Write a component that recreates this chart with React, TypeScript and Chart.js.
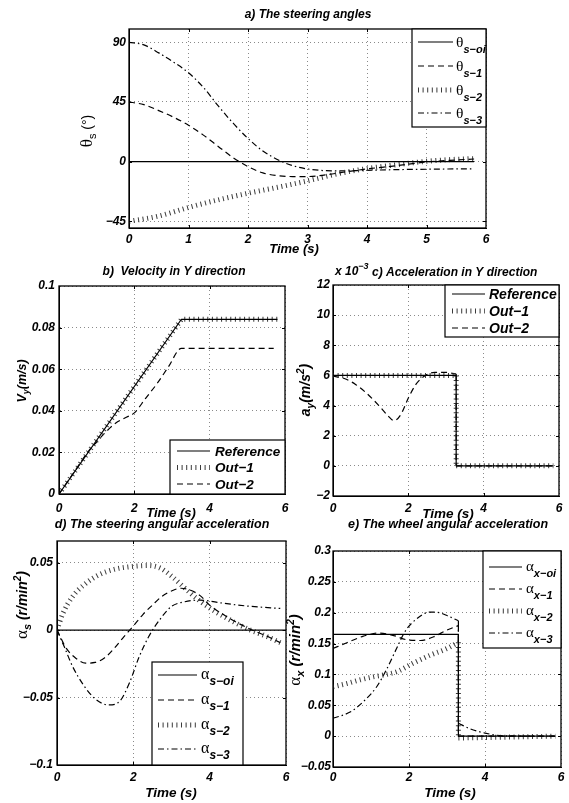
import React, { useEffect, useRef } from "react";
import { Chart, registerables } from "chart.js";
Chart.register(...registerables);

// ================= DATA =================
// a) The steering angles (deg) vs Time (s)
const aTicksX = [0, 1, 2, 3, 4, 5, 6];
const aTicksY = [-45, 0, 45, 90];
const aOiT = [0, 5.8];
const aOiV = [0, 0];
const a1T = [0, 0.25, 0.5, 0.75, 1.0, 1.25, 1.5, 1.75, 2.0, 2.25, 2.5, 2.75, 3.0, 3.3, 3.6, 4.0, 4.5, 5.0, 5.5, 5.8];
const a1V = [45, 43, 38.5, 33.5, 27.5, 20, 11.5, 3, -3.7, -8.5, -10.5, -11.2, -11.2, -10, -8, -5.5, -3, -0.2, 1.3, 2];
const a2T = [0, 0.5, 1.0, 1.5, 2.0, 2.5, 3.0, 3.5, 4.0, 4.5, 5.0, 5.5, 5.8];
const a2V = [-45, -41, -34.5, -28.8, -23.8, -19.3, -14.5, -9.2, -5.2, -2.3, 0.3, 1.8, 2.3];
const a3T = [0, 0.25, 0.5, 0.75, 1.0, 1.25, 1.5, 1.75, 2.0, 2.25, 2.5, 2.75, 3.0, 3.5, 4.0, 4.5, 5.0, 5.5, 5.8];
const a3V = [90, 88, 82, 75, 67, 56, 42, 29, 17.5, 8, 1.5, -3, -5.5, -7, -6.5, -6, -5.7, -5.5, -5.5];

// b) Velocity in Y direction (m/s)
const bTicksX = [0, 2, 4, 6];
const bTicksY = [0, 0.02, 0.04, 0.06, 0.08, 0.1];
const bRefT = [0, 3.25, 5.8];
const bRefV = [0, 0.084, 0.084];
const bOut1T = [0, 3.25, 5.8];
const bOut1V = [0, 0.084, 0.084];
const bOut2T = [0, 0.4, 0.8, 1.0, 1.2, 1.5, 1.8, 2.0, 2.3, 2.6, 2.9, 3.25, 5.7];
const bOut2V = [0, 0.0105, 0.021, 0.025, 0.029, 0.034, 0.037, 0.039, 0.046, 0.053, 0.061, 0.07, 0.07];

// c) Acceleration in Y direction (m/s^2)
const cTicksX = [0, 2, 4, 6];
const cTicksY = [-0.002, 0, 0.002, 0.004, 0.006, 0.008, 0.01, 0.012];
const cRefT = [0, 3.27, 3.27, 5.85];
const cRefV = [0.006, 0.006, 0, 0];
const cOut1T = [0, 3.27, 3.27, 5.85];
const cOut1V = [0.006, 0.006, 0, 0];
const cOut2T = [0, 0.3, 0.6, 0.9, 1.2, 1.45, 1.62, 1.8, 2.0, 2.2, 2.45, 2.7, 3.0, 3.27, 3.27, 5.85];
const cOut2V = [0.00595, 0.0058, 0.0054, 0.0048, 0.00405, 0.00335, 0.003, 0.0034, 0.0045, 0.0054, 0.006, 0.0062, 0.0062, 0.0061, 0, 0];

// d) The steering angular acceleration (r/min^2)
const dTicksX = [0, 2, 4, 6];
const dTicksY = [-0.1, -0.05, 0, 0.05];
const dOiT = [0, 6];
const dOiV = [0, 0];
const d1T = [0, 0.25, 0.5, 0.75, 1.0, 1.25, 1.5, 1.75, 2.0, 2.25, 2.5, 2.75, 3.0, 3.25, 3.5, 3.75, 4.0, 4.5, 5.0, 5.5, 5.85];
const d1V = [0, -0.0138, -0.021, -0.0245, -0.024, -0.0205, -0.0135, -0.005, 0.003, 0.0115, 0.0185, 0.025, 0.029, 0.031, 0.0295, 0.0255, 0.0185, 0.009, 0.0015, -0.0045, -0.0093];
const d2T = [0, 0.15, 0.4, 0.75, 1.1, 1.5, 2.0, 2.4, 2.7, 3.0, 3.35, 3.7, 4.1, 4.6, 5.0, 5.5, 5.85];
const d2V = [0, 0.012, 0.0245, 0.0345, 0.041, 0.045, 0.0472, 0.0478, 0.046, 0.04, 0.031, 0.0225, 0.0145, 0.0065, 0.0008, -0.0048, -0.0093];
const d3T = [0, 0.2, 0.4, 0.7, 1.0, 1.35, 1.65, 1.9, 2.15, 2.4, 2.7, 3.0, 3.35, 3.75, 4.2, 4.6, 5.1, 5.6, 5.85];
const d3V = [0, -0.013, -0.0265, -0.041, -0.051, -0.0555, -0.0525, -0.039, -0.02, -0.005, 0.008, 0.0175, 0.021, 0.0222, 0.0205, 0.019, 0.0175, 0.0165, 0.016];

// e) The wheel angular acceleration (r/min^2)
const eTicksX = [0, 2, 4, 6];
const eTicksY = [-0.05, 0, 0.05, 0.1, 0.15, 0.2, 0.25, 0.3];
const eOiT = [0, 3.3, 3.3, 5.85];
const eOiV = [0.165, 0.165, 0, 0];
const eX1T = [0, 0.35, 0.8, 1.2, 1.6, 1.95, 2.3, 2.65, 3.0, 3.3, 3.3, 5.85];
const eX1V = [0.142, 0.151, 0.162, 0.167, 0.163, 0.156, 0.155, 0.161, 0.172, 0.179, 0, 0];
const eX2T = [0, 0.35, 0.7, 1.05, 1.4, 1.7, 2.1, 2.55, 3.0, 3.3, 3.3, 4.2, 5.85];
const eX2V = [0.08, 0.085, 0.091, 0.096, 0.1, 0.105, 0.118, 0.131, 0.142, 0.152, -0.003, -0.002, 0];
const eX3T = [0, 0.45, 0.8, 1.15, 1.4, 1.65, 1.9, 2.2, 2.55, 2.8, 3.05, 3.3, 3.3, 3.6, 4.0, 4.5, 5.85];
const eX3V = [0.029, 0.039, 0.056, 0.08, 0.107, 0.139, 0.17, 0.19, 0.201, 0.2, 0.194, 0.187, 0.021, 0.012, 0.005, 0.0005, 0];

// ================= STYLE / LAYOUT =================
const W = 569;
const H = 803;
const FONT = '"Liberation Sans", Arial, Helvetica, sans-serif';
const GREEK = '"Liberation Serif", "Times New Roman", serif';
const bi = (s: number) => `italic bold ${s}px ${FONT}`;
const gr = (s: number) => `${s}px ${GREEK}`;
const pl = (s: number) => `${s}px ${FONT}`;

type StyleName = "solid" | "dash" | "ticks" | "dashdot";
const STYLES: Record<StyleName, { width: number; dash: number[]; color: string }> = {
  solid: { width: 1.2, dash: [], color: "#000" },
  dash: { width: 1.2, dash: [6, 4], color: "#000" },
  ticks: { width: 5, dash: [1, 3.6], color: "#3a3a3a" },
  dashdot: { width: 1.2, dash: [6, 3, 1.5, 3], color: "#000" },
};

type Run = { t: string; f: string; dy?: number };
type TextItem = { runs: Run[]; x: number; y: number; align: "left" | "center" | "right"; rot?: boolean };
type Series = { t: number[]; v: number[]; style: StyleName; smooth: boolean };
type LegendSpec = {
  box: [number, number, number, number];
  rows: number[];
  lx1: number;
  lx2: number;
  tx: number;
  entries: { style: StyleName; runs: Run[] }[];
};
type PanelSpec = {
  id: string;
  rect: { L: number; T: number; R: number; B: number };
  xMin: number; xMax: number; xTicks: number[]; xPad: number;
  yMin: number; yMax: number; yTicks: number[]; yPad: number;
  yFmt?: (v: number) => string;
  series: Series[];
  texts: TextItem[];
  legend: LegendSpec;
};

const fmt = (v: number) => {
  const r = Math.round(v * 1e6) / 1e6;
  return String(r).replace("-", "\u2212");
};

function runsWidth(ctx: CanvasRenderingContext2D, runs: Run[]) {
  let w = 0;
  for (const r of runs) {
    ctx.font = r.f;
    w += ctx.measureText(r.t).width;
  }
  return w;
}

function drawRuns(ctx: CanvasRenderingContext2D, runs: Run[], x: number, y: number, align: string) {
  const w = runsWidth(ctx, runs);
  let cx = align === "left" ? x : align === "center" ? x - w / 2 : x - w;
  ctx.textAlign = "left";
  ctx.textBaseline = "alphabetic";
  for (const r of runs) {
    ctx.font = r.f;
    ctx.fillText(r.t, cx, y + (r.dy || 0));
    cx += ctx.measureText(r.t).width;
  }
}

function buildDatasets(series: Series[]) {
  const out: any[] = [];
  series.forEach((s) => {
    const st = STYLES[s.style];
    const push = (pts: { x: number; y: number }[], smooth: boolean) => {
      if (pts.length < 2) return;
      out.push({
        data: pts,
        showLine: true,
        pointRadius: 0,
        pointHoverRadius: 0,
        borderColor: st.color,
        borderWidth: st.width,
        borderDash: st.dash,
        borderCapStyle: "butt",
        borderJoinStyle: "round",
        cubicInterpolationMode: smooth ? "monotone" : "default",
        tension: 0,
        fill: false,
      });
    };
    let seg = [{ x: s.t[0], y: s.v[0] }];
    for (let i = 1; i < s.t.length; i++) {
      if (s.t[i] === s.t[i - 1]) {
        push(seg, s.smooth);
        push([{ x: s.t[i - 1], y: s.v[i - 1] }, { x: s.t[i], y: s.v[i] }], false);
        seg = [{ x: s.t[i], y: s.v[i] }];
      } else {
        seg.push({ x: s.t[i], y: s.v[i] });
      }
    }
    push(seg, s.smooth);
  });
  return out;
}

function overlayPlugin(spec: PanelSpec) {
  return {
    id: "overlay_" + spec.id,
    afterDraw(chart: any) {
      const ctx: CanvasRenderingContext2D = chart.ctx;
      const a = chart.chartArea;
      const xs = chart.scales.x;
      const ys = chart.scales.y;
      ctx.save();
      ctx.setLineDash([]);
      ctx.strokeStyle = "#000";
      ctx.lineWidth = 1;
      ctx.beginPath();
      for (const v of spec.xTicks) {
        const px = Math.round(xs.getPixelForValue(v)) + 0.5;
        if (px - a.left < 2 || a.right - px < 2) continue;
        ctx.moveTo(px, a.bottom);
        ctx.lineTo(px, a.bottom - 3);
        ctx.moveTo(px, a.top);
        ctx.lineTo(px, a.top + 3);
      }
      for (const v of spec.yTicks) {
        const py = Math.round(ys.getPixelForValue(v)) + 0.5;
        if (py - a.top < 2 || a.bottom - py < 2) continue;
        ctx.moveTo(a.left, py);
        ctx.lineTo(a.left + 3, py);
        ctx.moveTo(a.right, py);
        ctx.lineTo(a.right - 3, py);
      }
      ctx.stroke();
      ctx.lineWidth = 1.3;
      ctx.strokeRect(a.left, a.top, a.right - a.left, a.bottom - a.top);

      // legend
      const lg = spec.legend;
      const [bx1, by1, bx2, by2] = lg.box;
      ctx.fillStyle = "#fff";
      ctx.fillRect(bx1, by1, bx2 - bx1, by2 - by1);
      ctx.lineWidth = 1.2;
      ctx.strokeStyle = "#000";
      ctx.strokeRect(bx1, by1, bx2 - bx1, by2 - by1);
      lg.entries.forEach((e, i) => {
        const st = STYLES[e.style];
        const y = lg.rows[i];
        ctx.save();
        ctx.strokeStyle = st.color;
        ctx.lineWidth = st.width;
        ctx.setLineDash(st.dash);
        ctx.lineCap = "butt";
        ctx.beginPath();
        ctx.moveTo(lg.lx1, y);
        ctx.lineTo(lg.lx2, y);
        ctx.stroke();
        ctx.restore();
        ctx.fillStyle = "#000";
        drawRuns(ctx, e.runs, lg.tx, y, "left");
      });

      // texts
      ctx.fillStyle = "#000";
      for (const t of spec.texts) {
        if (t.rot) {
          ctx.save();
          ctx.translate(t.x, t.y);
          ctx.rotate(-Math.PI / 2);
          drawRuns(ctx, t.runs, 0, 0, t.align);
          ctx.restore();
        } else {
          drawRuns(ctx, t.runs, t.x, t.y, t.align);
        }
      }
      ctx.restore();
    },
  };
}

// legend row helpers (runs relative to row centre line)
const greekEntry = (g: string, sub: string, gs: number, ss: number, gdy: number, sdy: number): Run[] => [
  { t: g, f: gr(gs), dy: gdy },
  { t: sub, f: bi(ss), dy: sdy },
];
const wordEntry = (w: string, s: number): Run[] => [{ t: w, f: bi(s), dy: s * 0.36 }];

const PANELS: PanelSpec[] = [
  {
    id: "a",
    rect: { L: 129, T: 29, R: 486, B: 228 },
    xMin: 0, xMax: 6, xTicks: aTicksX, xPad: 4,
    yMin: -50, yMax: 100, yTicks: aTicksY, yPad: 3,
    series: [
      { t: aOiT, v: aOiV, style: "solid", smooth: false },
      { t: a1T, v: a1V, style: "dash", smooth: true },
      { t: a2T, v: a2V, style: "ticks", smooth: true },
      { t: a3T, v: a3V, style: "dashdot", smooth: true },
    ],
    texts: [
      { runs: [{ t: "a) The steering angles", f: bi(12) }], x: 308, y: 18, align: "center" },
      { runs: [{ t: "Time (s)", f: bi(13) }], x: 294, y: 252.5, align: "center" },
      {
        runs: [
          { t: "\u03b8", f: gr(17) },
          { t: "s", f: pl(11), dy: 4 },
          { t: " (\u00b0)", f: pl(14) },
        ],
        x: 92, y: 131, align: "center", rot: true,
      },
    ],
    legend: {
      box: [412, 29, 486, 127],
      rows: [42, 66, 90, 113],
      lx1: 418, lx2: 453, tx: 456,
      entries: [
        { style: "solid", runs: greekEntry("\u03b8", "s\u2212oi", 15.5, 11, 4.5, 10.5) },
        { style: "dash", runs: greekEntry("\u03b8", "s\u22121", 15.5, 11, 4.5, 10.5) },
        { style: "ticks", runs: greekEntry("\u03b8", "s\u22122", 15.5, 11, 4.5, 10.5) },
        { style: "dashdot", runs: greekEntry("\u03b8", "s\u22123", 15.5, 11, 4.5, 10.5) },
      ],
    },
  },
  {
    id: "b",
    rect: { L: 59, T: 286, R: 285, B: 494 },
    xMin: 0, xMax: 6, xTicks: bTicksX, xPad: 7,
    yMin: 0, yMax: 0.1, yTicks: bTicksY, yPad: 4,
    series: [
      { t: bRefT, v: bRefV, style: "solid", smooth: false },
      { t: bOut1T, v: bOut1V, style: "ticks", smooth: false },
      { t: bOut2T, v: bOut2V, style: "dash", smooth: true },
    ],
    texts: [
      { runs: [{ t: "b)  Velocity in Y direction", f: bi(12) }], x: 174, y: 274.5, align: "center" },
      { runs: [{ t: "Time (s)", f: bi(13) }], x: 171, y: 516.5, align: "center" },
      {
        runs: [
          { t: "V", f: bi(12.5) },
          { t: "y", f: bi(9), dy: 3 },
          { t: "(m/s)", f: bi(12.5) },
        ],
        x: 25.5, y: 381, align: "center", rot: true,
      },
    ],
    legend: {
      box: [170, 440, 285, 494],
      rows: [451, 467.5, 484],
      lx1: 177, lx2: 210, tx: 215,
      entries: [
        { style: "solid", runs: wordEntry("Reference", 13.5) },
        { style: "ticks", runs: wordEntry("Out\u22121", 13.5) },
        { style: "dash", runs: wordEntry("Out\u22122", 13.5) },
      ],
    },
  },
  {
    id: "c",
    rect: { L: 333, T: 285, R: 559, B: 496 },
    xMin: 0, xMax: 6, xTicks: cTicksX, xPad: 5,
    yMin: -0.002, yMax: 0.012, yTicks: cTicksY, yPad: 3,
    yFmt: (v: number) => fmt(v * 1000),
    series: [
      { t: cRefT, v: cRefV, style: "solid", smooth: false },
      { t: cOut1T, v: cOut1V, style: "ticks", smooth: false },
      { t: cOut2T, v: cOut2V, style: "dash", smooth: true },
    ],
    texts: [
      {
        runs: [
          { t: "x 10", f: bi(12) },
          { t: "\u22123", f: bi(9), dy: -6 },
        ],
        x: 335, y: 275, align: "left",
      },
      { runs: [{ t: "c) Acceleration in Y direction", f: bi(12) }], x: 372, y: 275.5, align: "left" },
      { runs: [{ t: "Time (s)", f: bi(13.5) }], x: 448, y: 517.5, align: "center" },
      {
        runs: [
          { t: "a", f: bi(14) },
          { t: "y", f: bi(10), dy: 3.5 },
          { t: "(m/s", f: bi(14) },
          { t: "2", f: bi(10), dy: -6 },
          { t: ")", f: bi(14) },
        ],
        x: 310, y: 390, align: "center", rot: true,
      },
    ],
    legend: {
      box: [445, 285, 559, 337],
      rows: [294, 311, 328],
      lx1: 452, lx2: 485, tx: 489,
      entries: [
        { style: "solid", runs: wordEntry("Reference", 14) },
        { style: "ticks", runs: wordEntry("Out\u22121", 14) },
        { style: "dash", runs: wordEntry("Out\u22122", 14) },
      ],
    },
  },
  {
    id: "d",
    rect: { L: 57, T: 541, R: 286, B: 765 },
    xMin: 0, xMax: 6, xTicks: dTicksX, xPad: 5,
    yMin: -0.1, yMax: 0.066, yTicks: dTicksY, yPad: 4,
    series: [
      { t: dOiT, v: dOiV, style: "solid", smooth: false },
      { t: d1T, v: d1V, style: "dash", smooth: true },
      { t: d2T, v: d2V, style: "ticks", smooth: true },
      { t: d3T, v: d3V, style: "dashdot", smooth: true },
    ],
    texts: [
      { runs: [{ t: "d) The steering angular acceleration", f: bi(12.5) }], x: 162, y: 527.5, align: "center" },
      { runs: [{ t: "Time (s)", f: bi(13.5) }], x: 171, y: 796.5, align: "center" },
      {
        runs: [
          { t: "\u03b1", f: gr(17) },
          { t: "s", f: bi(11), dy: 4 },
          { t: " (r/min", f: bi(14) },
          { t: "2", f: bi(10), dy: -6 },
          { t: ")", f: bi(14) },
        ],
        x: 27, y: 605, align: "center", rot: true,
      },
    ],
    legend: {
      box: [152, 662, 243, 765],
      rows: [675, 700, 725, 749],
      lx1: 158, lx2: 197, tx: 201,
      entries: [
        { style: "solid", runs: greekEntry("\u03b1", "s\u2212oi", 16, 12, 3.5, 10) },
        { style: "dash", runs: greekEntry("\u03b1", "s\u22121", 16, 12, 3.5, 10) },
        { style: "ticks", runs: greekEntry("\u03b1", "s\u22122", 16, 12, 3.5, 10) },
        { style: "dashdot", runs: greekEntry("\u03b1", "s\u22123", 16, 12, 3.5, 10) },
      ],
    },
  },
  {
    id: "e",
    rect: { L: 333, T: 551, R: 561, B: 767 },
    xMin: 0, xMax: 6, xTicks: eTicksX, xPad: 3,
    yMin: -0.05, yMax: 0.3, yTicks: eTicksY, yPad: 2,
    series: [
      { t: eOiT, v: eOiV, style: "solid", smooth: false },
      { t: eX1T, v: eX1V, style: "dash", smooth: true },
      { t: eX2T, v: eX2V, style: "ticks", smooth: true },
      { t: eX3T, v: eX3V, style: "dashdot", smooth: true },
    ],
    texts: [
      { runs: [{ t: "e) The wheel angular acceleration", f: bi(12.5) }], x: 448, y: 527.5, align: "center" },
      { runs: [{ t: "Time (s)", f: bi(13.5) }], x: 450, y: 796.5, align: "center" },
      {
        runs: [
          { t: "\u03b1", f: gr(17) },
          { t: "x", f: bi(11), dy: 4 },
          { t: " (r/min", f: bi(15) },
          { t: "2", f: bi(10), dy: -6 },
          { t: ")", f: bi(15) },
        ],
        x: 300, y: 650, align: "center", rot: true,
      },
    ],
    legend: {
      box: [483, 551, 561, 648],
      rows: [567, 589, 611, 633],
      lx1: 489, lx2: 522, tx: 526,
      entries: [
        { style: "solid", runs: greekEntry("\u03b1", "x\u2212oi", 15, 11, 3.5, 9.5) },
        { style: "dash", runs: greekEntry("\u03b1", "x\u22121", 15, 11, 3.5, 9.5) },
        { style: "ticks", runs: greekEntry("\u03b1", "x\u22122", 15, 11, 3.5, 9.5) },
        { style: "dashdot", runs: greekEntry("\u03b1", "x\u22123", 15, 11, 3.5, 9.5) },
      ],
    },
  },
];

function makeConfig(spec: PanelSpec): any {
  const { L, T, R, B } = spec.rect;
  const tickFont = { family: FONT, size: 12, style: "italic" as const, weight: "bold" as const };
  const gridCommon = { color: "#8a8a8a", lineWidth: 1, drawTicks: false };
  return {
    type: "line",
    data: { datasets: buildDatasets(spec.series) },
    options: {
      animation: false,
      responsive: false,
      devicePixelRatio: 1,
      events: [],
      layout: { autoPadding: false, padding: { left: 0, top: T, right: W - R, bottom: 0 } },
      plugins: { legend: { display: false }, tooltip: { enabled: false }, title: { display: false } },
      scales: {
        x: {
          type: "linear",
          min: spec.xMin,
          max: spec.xMax,
          afterBuildTicks: (ax: any) => {
            ax.ticks = spec.xTicks.map((v) => ({ value: v }));
          },
          afterFit: (s: any) => {
            s.height = H - B;
          },
          ticks: {
            autoSkip: false,
            maxRotation: 0,
            minRotation: 0,
            padding: spec.xPad,
            color: "#000",
            font: tickFont,
            callback: (v: any) => fmt(Number(v)),
          },
          grid: gridCommon,
          border: { display: true, color: "#000", width: 1, dash: [1, 3] },
        },
        y: {
          type: "linear",
          min: spec.yMin,
          max: spec.yMax,
          afterBuildTicks: (ax: any) => {
            ax.ticks = spec.yTicks.map((v) => ({ value: v }));
          },
          afterFit: (s: any) => {
            s.width = L;
          },
          ticks: {
            autoSkip: false,
            padding: spec.yPad,
            color: "#000",
            font: tickFont,
            callback: (v: any) => (spec.yFmt ? spec.yFmt(Number(v)) : fmt(Number(v))),
          },
          grid: gridCommon,
          border: { display: true, color: "#000", width: 1, dash: [1, 3] },
        },
      },
    },
    plugins: [overlayPlugin(spec)],
  };
}

function PanelCanvas({ spec }: { spec: PanelSpec }) {
  const ref = useRef<HTMLCanvasElement | null>(null);
  useEffect(() => {
    if (!ref.current) return;
    const chart = new Chart(ref.current, makeConfig(spec));
    return () => chart.destroy();
  }, [spec]);
  return (
    <canvas
      ref={ref}
      width={W}
      height={H}
      style={{ position: "absolute", left: 0, top: 0, width: W, height: H }}
    />
  );
}

export default function App() {
  return (
    <div style={{ position: "absolute", left: 0, top: 0, width: W, height: H, background: "#fff" }}>
      {PANELS.map((p) => (
        <PanelCanvas key={p.id} spec={p} />
      ))}
    </div>
  );
}
